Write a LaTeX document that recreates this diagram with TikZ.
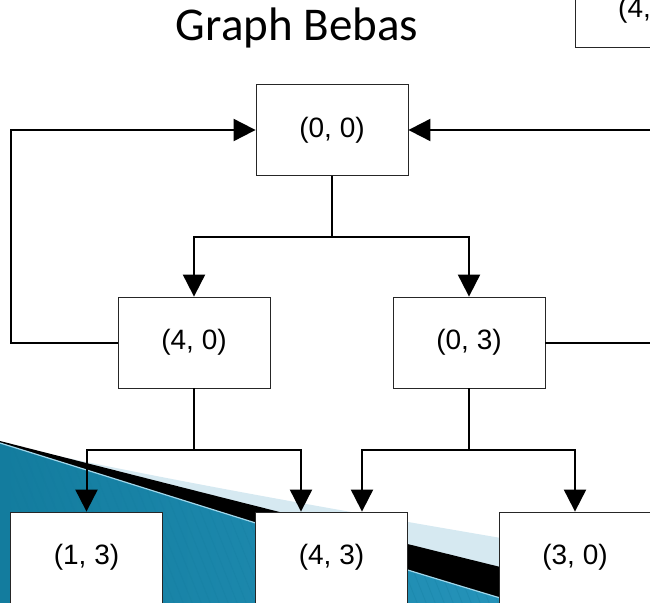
\documentclass[tikz,border=0pt]{standalone}
\usepackage{fontspec}
\setmainfont{Liberation Sans}
\newfontfamily\titlefont{Carlito}
\usetikzlibrary{arrows.meta}

\definecolor{tealdark}{HTML}{137C9E}
\definecolor{teallight}{HTML}{52B6DA}
\definecolor{tealmid}{HTML}{2A9AC2}
\definecolor{paleblue}{HTML}{D6E9F1}

\begin{document}
\begin{tikzpicture}[x=1pt,y=-1pt,
	state/.style={draw=black!85,line width=0.8pt,fill=white,minimum width=152pt,minimum height=91pt,inner sep=0pt,font=\fontsize{28}{33}\selectfont},
	wire/.style={line width=2pt},
	link/.style={wire,-{Triangle[length=22pt,width=22pt]}}]
	\useasboundingbox (0,0) rectangle (650,602);
	\clip (0,0) rectangle (650,602);

	% swoosh in the corner
	\fill [paleblue] (30,450) .. controls (200,487) and (400,521) .. (660,565) -- (660,620) -- (0,620) -- cycle;
	\fill [black] (0,441) .. controls (200,492) and (400,543) .. (660,606) -- (660,620) -- (0,620) -- cycle;
	\shade [left color=tealdark,middle color=teallight,right color=tealmid] (0,443) .. controls (200,505) and (400,570) .. (660,645) -- (660,660) -- (0,660) -- cycle;
	\begin{scope}
		\clip (0,443) .. controls (200,505) and (400,570) .. (660,645) -- (660,660) -- (0,660) -- cycle;
		\foreach \i in {-300,-291,...,660}
			\draw [tealdark,opacity=0.3,line width=0.8pt] (\i,430) -- ++(80,200);
	\end{scope}
	\draw [teallight!55!white,line width=1.2pt] (0,443) .. controls (200,505) and (400,570) .. (660,645);

	\node [font=\titlefont\fontsize{47}{56}\selectfont,anchor=base] (title) at (297,41) {Graph Bebas};

	\node [state] (n00) at (332,130) {(0, 0)};
	\node [state] (n40) at (194,342.5) {(4, 0)};
	\node [state] (n03) at (469,342.5) {(0, 3)};
	\node [state] (n13) at (86.5,557.5) {(1, 3)};
	\node [state] (n43) at (331.5,557.5) {(4, 3)};
	\node [state] (n30) at (575,557.5) {(3, 0)};
	\node [state] (n4x) at (651,1.5) {};
	\node [font=\fontsize{28}{33}\selectfont,inner sep=0pt,anchor=base west] (n4xt) at (618,18) {(4,};

	\coordinate (r1) at (650,130);
	\coordinate (r2) at (650,342.5);

	\draw [wire] (n00.south) -- ++(0,61) coordinate (j1);
	\draw [link] (j1) -| (n40.north);
	\draw [link] (j1) -| (n03.north);
	\draw [link] (n40.west) -- ++(-107,0) |- (n00.west);
	\draw [link] (r1) -- (n00.east);
	\draw [wire] (n03.east) -- (r2);

	\draw [wire] (n40.south) -- ++(0,62) coordinate (j2);
	\draw [link] (j2) -| (n13.north);
	\draw [link] (j2) -| ([xshift=-30.5pt]n43.north);
	\draw [wire] (n03.south) -- ++(0,62) coordinate (j3);
	\draw [link] (j3) -| ([xshift=30.5pt]n43.north);
	\draw [link] (j3) -| (n30.north);
\end{tikzpicture}
\end{document}
